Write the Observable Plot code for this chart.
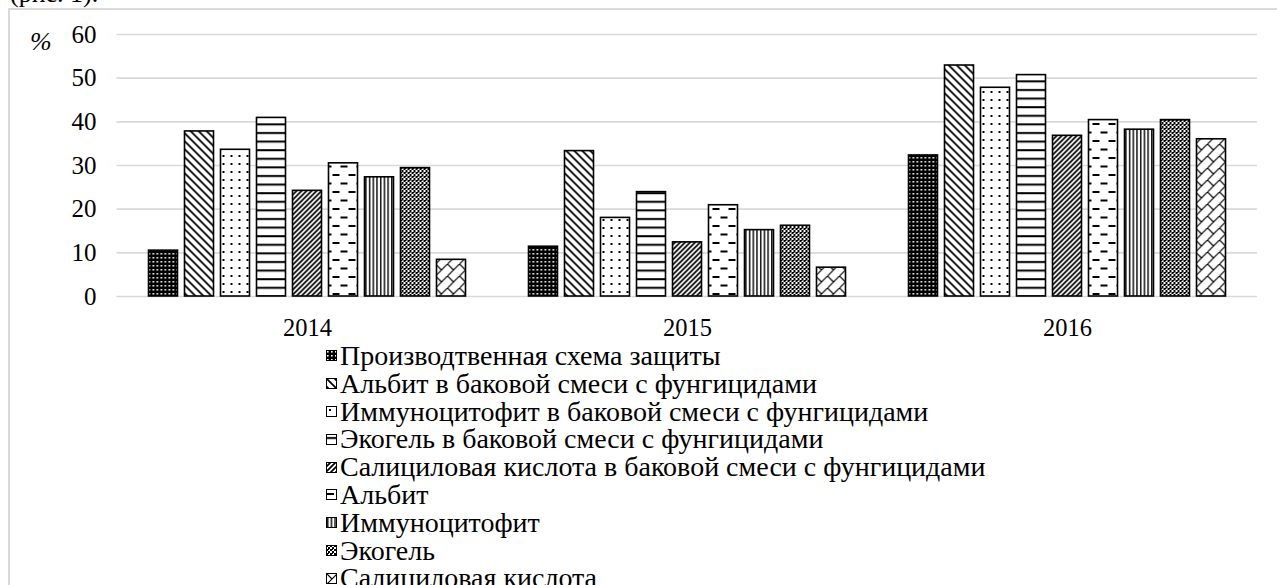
<!DOCTYPE html>
<html>
<head>
<meta charset="utf-8">
<script src="https://cdn.jsdelivr.net/npm/d3@7"></script>
<script src="https://cdn.jsdelivr.net/npm/@observablehq/plot@0.6"></script>
<style>
  html, body { margin: 0; padding: 0; background: #fff; overflow: hidden; width: 1277px; height: 585px; }
  #wrap { position: relative; width: 1277px; height: 585px; overflow: hidden; font-family: "Liberation Serif", "Times New Roman", serif; color: #000; }
  #border { position: absolute; left: 8px; top: 8px; width: 1300px; height: 620px; border: 2px solid #d9d9d9; box-sizing: border-box; }
  #caption { position: absolute; left: 10px; top: -21px; font-size: 26px; white-space: nowrap; }
  #grid, #bars { position: absolute; left: 0; top: 0; }
  #pct { position: absolute; left: 30px; top: 27px; font-size: 26px; font-style: italic; }
  #legend { position: absolute; left: 326px; top: 342px; font-size: 28px; line-height: 27.8px; }
  #legend div { display: flex; align-items: center; white-space: nowrap; height: 27.8px; }
  #legend span { display: inline-block; height: 27.8px; line-height: 27.8px; overflow: visible; }
  #legend svg { margin-right: 3px; flex: none; }
</style>
</head>
<body>
<div id="wrap">
  <div id="caption">(рис. 1).</div>
  <div id="border"></div>
  <div id="grid"></div>
  <div id="bars"></div>
  <div id="pct">%</div>
  <div id="legend"></div>
</div>
<svg width="0" height="0" style="position:absolute">
  <defs>
    <pattern id="p0" patternUnits="userSpaceOnUse" width="4" height="4">
      <rect width="4" height="4" fill="#000"/><rect x="1" y="1" width="1.6" height="1.6" fill="#fff"/>
    </pattern>
    <pattern id="p1" patternUnits="userSpaceOnUse" width="8" height="8">
      <rect width="8" height="8" fill="#fff"/>
      <path d="M-2,6 L2,10 M0,0 L8,8 M6,-2 L10,2" stroke="#000" stroke-width="1.8"/>
    </pattern>
    <pattern id="p2" patternUnits="userSpaceOnUse" width="8" height="8">
      <rect width="8" height="8" fill="#fff"/><rect x="3" y="3" width="2" height="2" fill="#000"/>
    </pattern>
    <pattern id="p3" patternUnits="userSpaceOnUse" width="8" height="8.6">
      <rect width="8" height="8.6" fill="#fff"/><rect x="0" y="3" width="8" height="2" fill="#000"/>
    </pattern>
    <pattern id="p4" patternUnits="userSpaceOnUse" width="5" height="5">
      <rect width="5" height="5" fill="#fff"/>
      <path d="M-1,1 L1,-1 M0,5 L5,0 M4,6 L6,4" stroke="#000" stroke-width="1.7"/>
    </pattern>
    <pattern id="p5" patternUnits="userSpaceOnUse" width="16" height="17">
      <rect width="16" height="17" fill="#fff"/>
      <rect x="1" y="4" width="7" height="2" fill="#000"/>
      <rect x="9" y="12.5" width="7" height="2" fill="#000"/>
    </pattern>
    <pattern id="p6" patternUnits="userSpaceOnUse" width="3.7" height="4">
      <rect width="3.7" height="4" fill="#fff"/><rect x="1" y="0" width="1.4" height="4" fill="#000"/>
    </pattern>
    <pattern id="p7" patternUnits="userSpaceOnUse" width="4" height="4">
      <rect width="4" height="4" fill="#fff"/>
      <rect x="0" y="0" width="2" height="2" fill="#000"/><rect x="2" y="2" width="2" height="2" fill="#000"/>
      <rect x="2" y="0" width="1" height="1" fill="#000"/>
    </pattern>
    <pattern id="p8" patternUnits="userSpaceOnUse" width="12" height="12">
      <rect width="12" height="12" fill="#fff"/>
      <path d="M-1,13 L13,-1 M0,0 L6,6" stroke="#000" stroke-width="1.2"/>
    </pattern>
  </defs>
</svg>
<script>
const years = ["2014", "2015", "2016"];
const series = [
  "Производтвенная схема защиты",
  "Альбит в баковой смеси с фунгицидами",
  "Иммуноцитофит в баковой смеси с фунгицидами",
  "Экогель в баковой смеси с фунгицидами",
  "Салициловая кислота в баковой смеси с фунгицидами",
  "Альбит",
  "Иммуноцитофит",
  "Экогель",
  "Салициловая кислота"
];
const values2014 = [10.5, 37.8, 33.6, 40.9, 24.2, 30.5, 27.3, 29.4, 8.4];
const values2015 = [11.4, 33.3, 18.0, 23.9, 12.4, 20.9, 15.2, 16.2, 6.6];
const values2016 = [32.3, 52.9, 47.8, 50.7, 36.8, 40.4, 38.2, 40.4, 36.0];
const yTicks = [0, 10, 20, 30, 40, 50, 60];
const patternIds = ["p0", "p1", "p2", "p3", "p4", "p5", "p6", "p7", "p8"];

const byYear = [values2014, values2015, values2016];
const data = [];
years.forEach((yr, i) => series.forEach((s, j) => data.push({year: yr, series: s, value: byYear[i][j]})));

const W = 1277, H = 345;
const common = {width: W, height: H, marginLeft: 116.5, marginRight: 20, marginTop: 34, marginBottom: 49};
const fontStyle = {fontFamily: "'Liberation Serif', 'Times New Roman', serif", background: "transparent", color: "#000", overflow: "visible"};

const grid = Plot.plot({
  ...common,
  style: {...fontStyle, fontSize: "25px"},
  y: {domain: [0, 60], axis: null},
  marks: [
    Plot.ruleY(yTicks, {stroke: "#d9d9d9", strokeWidth: 1.6}),
    Plot.axisY(yTicks, {tickSize: 0, tickPadding: 20.5, label: null, fontSize: 25})
  ]
});
document.getElementById("grid").append(grid);

const bars = Plot.plot({
  ...common,
  style: {...fontStyle, fontSize: "24.5px"},
  fx: {domain: years, paddingInner: 0.142, paddingOuter: 0.071, label: null, tickSize: 0, tickPadding: 22},
  x: {domain: series, paddingInner: 0.19, paddingOuter: 0.095, axis: null},
  y: {domain: [0, 60], axis: null},
  color: {domain: series, range: patternIds.map(id => `url(#${id})`)},
  marks: [
    Plot.barY(data, {fx: "year", x: "series", y: "value", fill: "series", stroke: "#000", strokeWidth: 1.6})
  ]
});
document.getElementById("bars").append(bars);

const legend = document.getElementById("legend");
series.forEach((s, j) => {
  const row = document.createElement("div");
  row.innerHTML = `<svg width="11" height="11"><rect x="0.5" y="0.5" width="10" height="10" fill="url(#${patternIds[j]})" stroke="#000" stroke-width="1"/></svg><span>${s}</span>`;
  legend.append(row);
});
</script>
</body>
</html>
